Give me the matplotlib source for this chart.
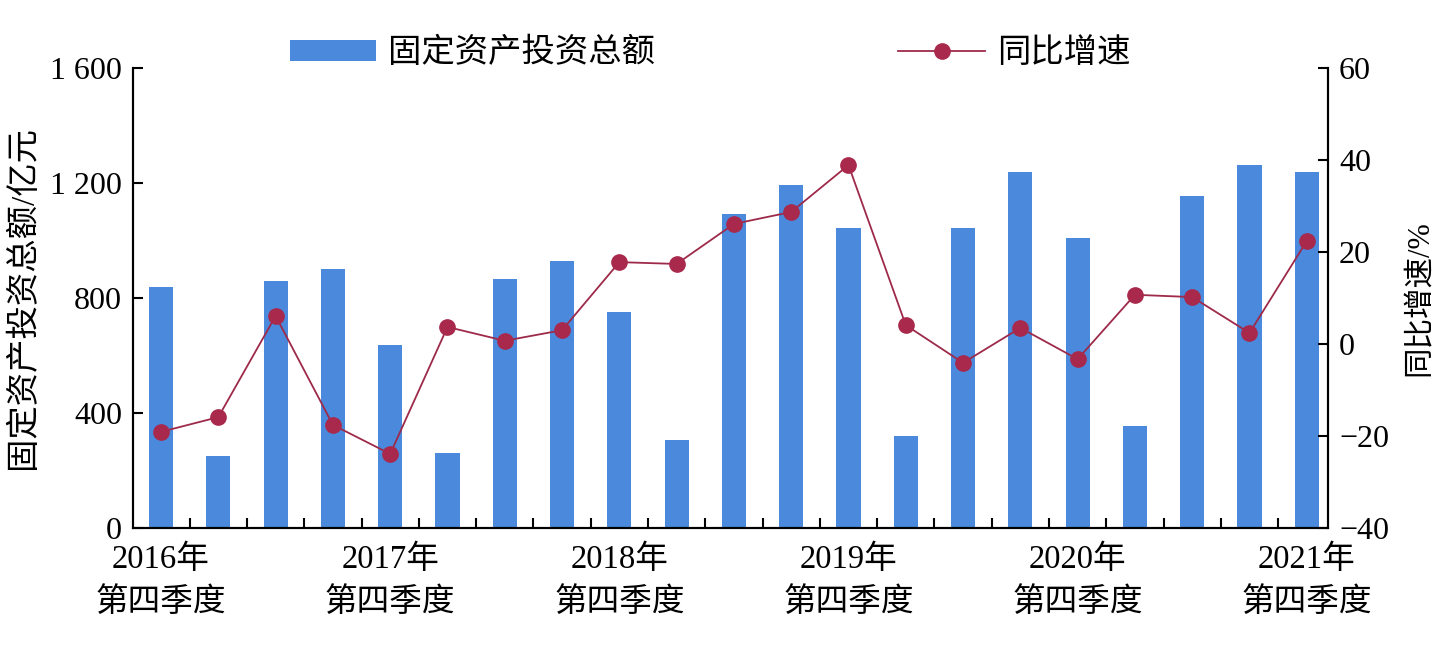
import matplotlib
matplotlib.use("Agg")
import matplotlib.pyplot as plt
from matplotlib.ticker import FuncFormatter, FixedLocator
import numpy as np

plt.rcParams['font.family'] = ['Liberation Serif', 'Noto Sans CJK SC']
plt.rcParams['axes.unicode_minus'] = True

quarters = list(range(21))
tick_positions = [0, 4, 8, 12, 16, 20]
tick_labels = ['2016年\n第四季度', '2017年\n第四季度', '2018年\n第四季度',
               '2019年\n第四季度', '2020年\n第四季度', '2021年\n第四季度']
investment = [838, 250, 859, 901, 637, 261, 866, 929, 751, 306, 1092,
              1193, 1043, 320, 1043, 1238, 1009, 355, 1155, 1263, 1238]
growth = [-19.1, -15.9, 6.1, -17.6, -23.9, 3.7, 0.7, 3.0, 17.8, 17.4, 26.1,
          28.7, 38.9, 4.1, -4.1, 3.5, -3.3, 10.7, 10.2, 2.4, 22.4]

bar_color = '#4A89DC'
line_color = '#9E2A4A'
marker_color = '#A8294C'

fig = plt.figure(figsize=(14.55, 6.51), dpi=100)
ax = fig.add_axes([0.0914, 0.189, 0.8213, 0.7065])
ax2 = ax.twinx()

bars = ax.bar(quarters, investment, width=0.42, color=bar_color, zorder=2,
              label='固定资产投资总额')
line, = ax2.plot(quarters, growth, color=line_color, lw=1.3, marker='o',
                 markersize=11, markerfacecolor=marker_color,
                 markeredgecolor=marker_color, label='同比增速', zorder=3)

ax.set_xlim(-0.49, 20.37)
ax.set_ylim(0, 1600)
ax.set_yticks([0, 400, 800, 1200, 1600])
ax.yaxis.set_major_formatter(FuncFormatter(
    lambda v, p: f'{int(v):,}'.replace(',', ' ')))
ax2.set_ylim(-40, 60)
ax2.set_yticks([-40, -20, 0, 20, 40, 60])

ax.set_xticks(tick_positions)
ax.set_xticklabels(tick_labels, fontsize=23.5, linespacing=1.5)
ax.tick_params(axis='x', which='major', length=0, pad=12)
ax.xaxis.set_minor_locator(FixedLocator(np.arange(0.5, 20, 1.0)))
ax.tick_params(axis='x', which='minor', direction='in', length=7, width=1.5)

ax.tick_params(axis='y', direction='in', length=7, width=1.5, labelsize=23, pad=8)
ax2.tick_params(axis='y', direction='in', length=7, width=1.5, labelsize=23, pad=8)

for a in (ax, ax2):
    a.spines['top'].set_visible(False)
    for s in ('left', 'right', 'bottom'):
        a.spines[s].set_linewidth(1.5)

ax.set_ylabel('固定资产投资总额/亿元', fontsize=24, labelpad=8)
ax2.set_ylabel('同比增速/%', fontsize=22, labelpad=12)

fig.legend(handles=[bars, line], labels=['固定资产投资总额', '同比增速'],
           loc='center', bbox_to_anchor=(0.488, 0.918), ncol=2, frameon=False,
           fontsize=24, handlelength=2.6, handleheight=0.6,
           columnspacing=7.3, handletextpad=0.35)

fig.savefig('out.png', dpi=100)
